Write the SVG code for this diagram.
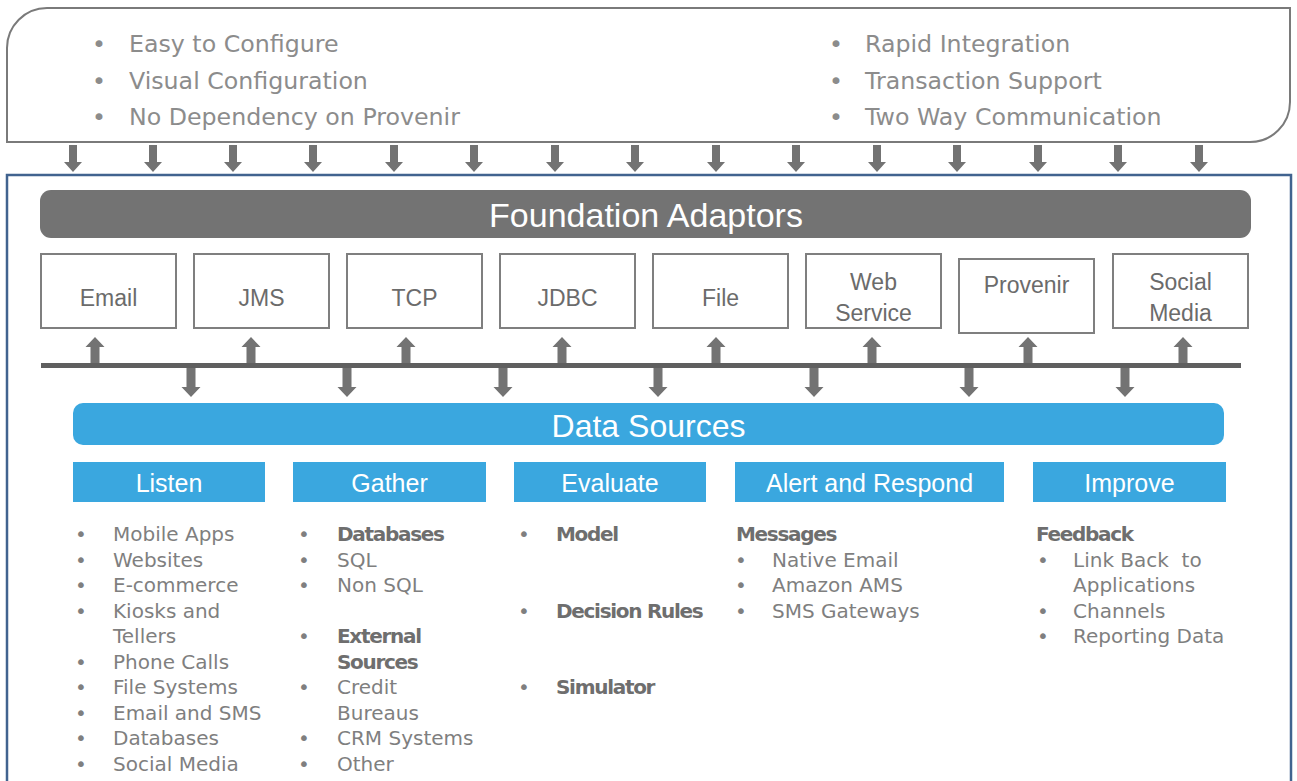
<svg xmlns="http://www.w3.org/2000/svg" width="1297" height="781" viewBox="0 0 1297 781">
<style>
.frame{fill:#fff;stroke:#7a7a7a;stroke-width:2}
.main{fill:#fff;stroke:#41638f;stroke-width:2.5}
.ad{fill:#fff;stroke:#7f7f7f;stroke-width:2}
.adt{font-family:"Liberation Sans",Arial,sans-serif;font-size:23px;fill:#6b6b6b;text-anchor:middle}
.top{font-family:"DejaVu Sans",sans-serif;font-size:23.7px;fill:#8c8c8c}
.li{font-family:"DejaVu Sans",sans-serif;font-size:20px;fill:#7f7f7f}
.b{font-weight:bold;fill:#6e6e6e;letter-spacing:-1.3px}
.hd{fill:#3aa7df}
.hdt{font-family:"Liberation Sans",Arial,sans-serif;font-size:25px;fill:#fff;text-anchor:middle}
.arr{fill:#737373}
</style>
<defs>
<path id="dn27" d="M-4,0 H4 V17 H9 L0,27 L-9,17 H-4 Z"/>
<path id="dn29" d="M-4.5,0 H4.5 V19 H9.5 L0,29 L-9.5,19 H-4.5 Z"/>
<path id="up28" d="M-4.5,28 H4.5 V10 H9.5 L0,0 L-9.5,10 H-4.5 Z"/>
</defs>

<g id="features">
<path class="frame" d="M7,142 V48 A40,40 0 0 1 47,8 H1290 V102 A40,40 0 0 1 1250,142 Z"/>
<text class="top" x="92" y="52">•</text><text class="top" x="129" y="52">Easy to Configure</text>
<text class="top" x="92" y="89">•</text><text class="top" x="129" y="89">Visual Configuration</text>
<text class="top" x="92" y="125">•</text><text class="top" x="129" y="125">No Dependency on Provenir</text>
<text class="top" x="829" y="52">•</text><text class="top" x="865" y="52">Rapid Integration</text>
<text class="top" x="829" y="89">•</text><text class="top" x="865" y="89">Transaction Support</text>
<text class="top" x="829" y="125">•</text><text class="top" x="865" y="125">Two Way Communication</text>
</g>

<g id="platform">
<rect class="main" x="7" y="175" width="1284" height="620"/>
</g>

<g id="foundation-adaptors">
<rect x="40" y="190" width="1211" height="48" rx="11" fill="#737373"/>
<text x="646" y="227" font-family="Liberation Sans,Arial,sans-serif" font-size="34" fill="#fff" text-anchor="middle">Foundation Adaptors</text>
</g>

<g id="adaptor-email"><rect class="ad" x="41" y="254" width="135" height="74"/><text class="adt" x="108.5" y="306">Email</text></g>
<g id="adaptor-jms"><rect class="ad" x="194" y="254" width="135" height="74"/><text class="adt" x="261.5" y="306">JMS</text></g>
<g id="adaptor-tcp"><rect class="ad" x="347" y="254" width="135" height="74"/><text class="adt" x="414.5" y="306">TCP</text></g>
<g id="adaptor-jdbc"><rect class="ad" x="500" y="254" width="135" height="74"/><text class="adt" x="567.5" y="306">JDBC</text></g>
<g id="adaptor-file"><rect class="ad" x="653" y="254" width="135" height="74"/><text class="adt" x="720.5" y="306">File</text></g>
<g id="adaptor-webservice"><rect class="ad" x="806" y="254" width="135" height="74"/><text class="adt" x="873.5" y="290">Web</text><text class="adt" x="873.5" y="321">Service</text></g>
<g id="adaptor-provenir"><rect class="ad" x="959" y="259" width="135" height="74"/><text class="adt" x="1026.5" y="293">Provenir</text></g>
<g id="adaptor-social"><rect class="ad" x="1113" y="254" width="135" height="74"/><text class="adt" x="1180.5" y="290">Social</text><text class="adt" x="1180.5" y="321">Media</text></g>

<g id="connectors">
<g class="arr">
<use href="#dn27" x="73" y="145"/><use href="#dn27" x="153" y="145"/><use href="#dn27" x="233" y="145"/><use href="#dn27" x="313" y="145"/><use href="#dn27" x="394" y="145"/><use href="#dn27" x="474" y="145"/><use href="#dn27" x="555" y="145"/><use href="#dn27" x="635" y="145"/><use href="#dn27" x="716" y="145"/><use href="#dn27" x="796" y="145"/><use href="#dn27" x="877" y="145"/><use href="#dn27" x="957" y="145"/><use href="#dn27" x="1038" y="145"/><use href="#dn27" x="1118" y="145"/><use href="#dn27" x="1199" y="145"/>
<use href="#up28" x="95" y="337"/><use href="#up28" x="251" y="337"/><use href="#up28" x="406" y="337"/><use href="#up28" x="562" y="337"/><use href="#up28" x="716" y="337"/><use href="#up28" x="872" y="337"/><use href="#up28" x="1028" y="337"/><use href="#up28" x="1183" y="337"/>
<use href="#dn29" x="191" y="368"/><use href="#dn29" x="347" y="368"/><use href="#dn29" x="503" y="368"/><use href="#dn29" x="658" y="368"/><use href="#dn29" x="814" y="368"/><use href="#dn29" x="969" y="368"/><use href="#dn29" x="1125" y="368"/>
</g>
<rect x="41" y="363" width="1200" height="5" fill="#5f5f5f"/>
</g>

<g id="data-sources">
<rect class="hd" x="73" y="403" width="1151" height="42" rx="10"/>
<text x="648.5" y="437" font-family="Liberation Sans,Arial,sans-serif" font-size="32" fill="#fff" text-anchor="middle">Data Sources</text>
</g>

<g id="listen">
<rect class="hd" x="73" y="462" width="192" height="40"/>
<text class="hdt" x="169" y="492">Listen</text>
<g class="li">
<text x="75" y="541">•</text><text x="113" y="541">Mobile Apps</text>
<text x="75" y="566.5">•</text><text x="113" y="566.5">Websites</text>
<text x="75" y="592">•</text><text x="113" y="592">E-commerce</text>
<text x="75" y="617.5">•</text><text x="113" y="617.5">Kiosks and</text>
<text x="113" y="643">Tellers</text>
<text x="75" y="668.5">•</text><text x="113" y="668.5">Phone Calls</text>
<text x="75" y="694">•</text><text x="113" y="694">File Systems</text>
<text x="75" y="719.5">•</text><text x="113" y="719.5">Email and SMS</text>
<text x="75" y="745">•</text><text x="113" y="745">Databases</text>
<text x="75" y="770.5">•</text><text x="113" y="770.5">Social Media</text>
</g>
</g>

<g id="gather">
<rect class="hd" x="293" y="462" width="193" height="40"/>
<text class="hdt" x="389.5" y="492">Gather</text>
<g class="li">
<text x="298" y="541">•</text><text class="b" x="337" y="541">Databases</text>
<text x="298" y="566.5">•</text><text x="337" y="566.5">SQL</text>
<text x="298" y="592">•</text><text x="337" y="592">Non SQL</text>
<text x="298" y="643">•</text><text class="b" x="337" y="643">External</text>
<text class="b" x="337" y="668.5">Sources</text>
<text x="298" y="694">•</text><text x="337" y="694">Credit</text>
<text x="337" y="719.5">Bureaus</text>
<text x="298" y="745">•</text><text x="337" y="745">CRM Systems</text>
<text x="298" y="770.5">•</text><text x="337" y="770.5">Other</text>
</g>
</g>

<g id="evaluate">
<rect class="hd" x="514" y="462" width="192" height="40"/>
<text class="hdt" x="610" y="492">Evaluate</text>
<g class="li">
<text x="518" y="541">•</text><text class="b" x="556" y="541">Model</text>
<text x="518" y="617.5">•</text><text class="b" x="556" y="617.5">Decision Rules</text>
<text x="518" y="694">•</text><text class="b" x="556" y="694">Simulator</text>
</g>
</g>

<g id="alert-respond">
<rect class="hd" x="735" y="462" width="269" height="40"/>
<text class="hdt" x="869.5" y="492">Alert and Respond</text>
<g class="li">
<text class="b" x="736" y="541">Messages</text>
<text x="735" y="566.5">•</text><text x="772" y="566.5">Native Email</text>
<text x="735" y="592">•</text><text x="772" y="592">Amazon AMS</text>
<text x="735" y="617.5">•</text><text x="772" y="617.5">SMS Gateways</text>
</g>
</g>

<g id="improve">
<rect class="hd" x="1033" y="462" width="193" height="40"/>
<text class="hdt" x="1129.5" y="492">Improve</text>
<g class="li">
<text class="b" x="1036" y="541">Feedback</text>
<text x="1037" y="566.5">•</text><text x="1073" y="566.5" xml:space="preserve">Link Back  to</text>
<text x="1073" y="592">Applications</text>
<text x="1037" y="617.5">•</text><text x="1073" y="617.5">Channels</text>
<text x="1037" y="643">•</text><text x="1073" y="643">Reporting Data</text>
</g>
</g>
</svg>
